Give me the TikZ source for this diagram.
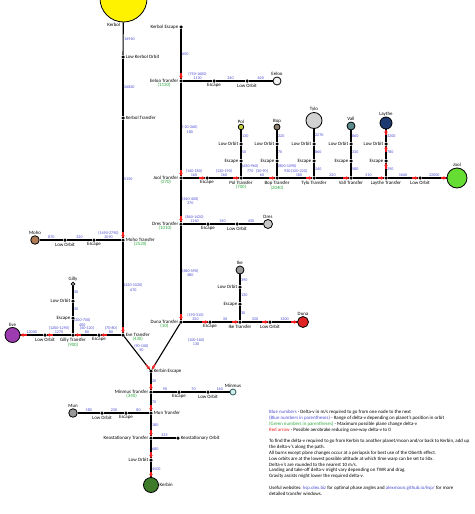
\documentclass[tikz,border=0pt]{standalone}
\usepackage{fontspec}
\setmainfont{Carlito}
\usepackage{tikz}
\usetikzlibrary{positioning,calc,arrows.meta}

\definecolor{numblue}{HTML}{4B4BD2}
\definecolor{numgreen}{HTML}{2FA83F}
\definecolor{aerored}{HTML}{F01E1E}

\begin{document}
\begin{tikzpicture}[x=1pt, y=-1pt,
		dot/.style={circle, fill=black, inner sep=0pt, minimum size=3.5pt},
		body/.style={circle, draw=black, thick, inner sep=0pt},
		lbl/.style={font=\fontsize{4.9}{5.2}\selectfont, inner sep=0.6pt},
		every label/.style={lbl},
		planechg/.style={lbl, text=numgreen},
		num/.style={font=\fontsize{4.1}{4.7}\selectfont, text=numblue, inner sep=0.6pt, align=center},
		link/.style={line width=1.1pt},
		aero/.style={draw=aerored, line width=1.3pt, -{Stealth[length=3.2pt, width=3.6pt]}},
	]
	\useasboundingbox (0,0) rectangle (474,514);

	%Nodes - Kerbol line
	\node[body, fill=yellow, minimum size=47pt]	(kerbol)	at (123.5,-1.5)	{};
	\node[lbl, anchor=east]						(kerbolname) at (121,25)	{Kerbol};
	\node[dot, label=right:Low Kerbol Orbit]	(lko)	at (123,57)		{};
	\node[dot, label=right:Kerbol Transfer]		(kt)	at (123,118)	{};
	\node[dot, label={[name=mtl]right:Moho Transfer}]	(mt)	at (123,240)	{};
	\node[dot, label={[name=etl]right:Eve Transfer}]	(et)	at (123,335)	{};
	\node[planechg, below=-1pt of mtl]	{(2520)};
	\node[planechg, below=-1pt of etl]	{(430)};

	%Nodes - outer planets line
	\node[dot, label=left:Kerbol Escape]	(ke)	at (181,27)		{};
	\node[dot, label={[name=eetl]left:Eeloo Transfer}]	(eet)	at (181,81)		{};
	\node[dot, label={[name=jtl]left:Jool Transfer}]	(jt)	at (181,178)	{};
	\node[dot, label={[name=dtl]left:Dres Transfer}]	(dt)	at (181,224)	{};
	\node[dot, label={[name=dutl]left:Duna Transfer}]	(dut)	at (181,322)	{};
	\node[planechg, below=-1pt of eetl]	{(1130)};
	\node[planechg, below=-1pt of jtl]	{(270)};
	\node[planechg, below=-1pt of dtl]	{(1010)};
	\node[planechg, below=-1pt of dutl]	{(10)};

	%Nodes - Eeloo
	\node[dot, label=below:Escape]		(eeesc)	at (214,81)	{};
	\node[dot, label=below:Low Orbit]	(eelo)	at (247,81)	{};
	\node[body, fill=gray!10, minimum size=8pt, label=above:Eeloo]	(eeloo)	at (277,81)	{};

	%Nodes - Jool
	\node[dot, label=below:Escape]		(jesc)	at (207,178)	{};
	\node[dot, label={[name=poltl]below:Pol Transfer}]	(polt)	at (241,178)	{};
	\node[dot, label={[name=boptl]below:Bop Transfer}]	(bopt)	at (277,178)	{};
	\node[dot, label=below:Tylo Transfer]	(tylt)	at (314,178)	{};
	\node[dot, label=below:Vall Transfer]	(valt)	at (351,178)	{};
	\node[dot, label=below:Laythe Transfer]	(layt)	at (386,178)	{};
	\node[dot, label=below:Low Orbit]	(jlo)	at (420,178)	{};
	\node[body, fill={rgb,255:red,102;green,221;blue,51}, minimum size=20pt, label=above:Jool]	(jool)	at (457,178)	{};
	\node[planechg, below=-1pt of poltl]	{(700)};
	\node[planechg, below=-1pt of boptl]	{(2040)};

	\node[dot, label=left:Escape]		(polesc)	at (241,161)	{};
	\node[dot, label=left:Low Orbit]	(pollo)		at (241,144)	{};
	\node[body, fill={rgb,255:red,200;green,208;blue,64}, minimum size=5.5pt, label=above:Pol]	(pol)	at (241,127)	{};

	\node[dot, label=left:Escape]		(bopesc)	at (277,161)	{};
	\node[dot, label=left:Low Orbit]	(boplo)		at (277,144)	{};
	\node[body, fill={rgb,255:red,140;green,124;blue,108}, minimum size=6pt, label=above:Bop]	(bop)	at (277,127)	{};

	\node[dot, label=left:Escape]		(tylesc)	at (314,161)	{};
	\node[dot, label=left:Low Orbit]	(tyllo)		at (314,144)	{};
	\node[body, fill=gray!35, minimum size=16pt, label=above:Tylo]	(tylo)	at (314,120.5)	{};

	\node[dot, label=left:Escape]		(valesc)	at (351,161)	{};
	\node[dot, label=left:Low Orbit]	(vallo)		at (351,144)	{};
	\node[body, fill={rgb,255:red,90;green,140;blue,140}, minimum size=8pt, label=above:Vall]	(vall)	at (351,126)	{};

	\node[dot, label=left:Escape]		(layesc)	at (386,161)	{};
	\node[dot, label=left:Low Orbit]	(laylo)		at (386,144)	{};
	\node[body, fill={rgb,255:red,28;green,58;blue,112}, minimum size=12pt, label=above:Laythe]	(laythe)	at (386,123)	{};

	%Nodes - Dres
	\node[dot, label=below:Escape]		(desc)	at (208,224)	{};
	\node[dot, label=below:Low Orbit]	(dlo)	at (237,224)	{};
	\node[body, fill=gray!45, minimum size=9pt, label=above:Dres]	(dres)	at (268,224)	{};

	%Nodes - Duna
	\node[dot, label=below:Escape]		(duesc)	at (210,322)	{};
	\node[dot, label=below:Ike Transfer]	(iket)	at (240,322)	{};
	\node[dot, label=below:Low Orbit]	(dulo)	at (270,322)	{};
	\node[body, fill={rgb,255:red,224;green,36;blue,36}, minimum size=11pt, label=above:Duna]	(duna)	at (303,322)	{};

	\node[dot, label=left:Escape]		(ikesc)	at (240,304)	{};
	\node[dot, label=left:Low Orbit]	(ikelo)	at (240,287)	{};
	\node[body, fill=gray!80, minimum size=8pt, label=above:Ike]	(ike)	at (240,270)	{};

	%Nodes - Moho
	\node[dot, label=below:Escape]		(mhesc)	at (94,240)	{};
	\node[dot, label=below:Low Orbit]	(mhlo)	at (65,240)	{};
	\node[body, fill={rgb,255:red,176;green,122;blue,85}, minimum size=8.5pt, label=above:Moho]	(moho)	at (35,240)	{};

	%Nodes - Eve
	\node[dot, label=below:Escape]		(evesc)	at (99,335)	{};
	\node[dot, label={[name=gtl]below:Gilly Transfer}]	(gt)	at (73,335)	{};
	\node[dot, label=below:Low Orbit]	(evlo)	at (45,335)	{};
	\node[body, fill={rgb,255:red,156;green,60;blue,176}, minimum size=15pt, label=above:Eve]	(eve)	at (12.5,335)	{};
	\node[planechg, below=-1pt of gtl]	{(900)};

	\node[dot, label=left:Escape]		(gesc)	at (73,318)	{};
	\node[dot, label=left:Low Orbit]	(glo)	at (73,301)	{};
	\node[body, fill=white, minimum size=3.5pt, label=above:Gilly]	(gilly)	at (73,284)	{};

	%Nodes - Kerbin
	\node[dot, label=right:Kerbin Escape]	(kesc)	at (151,371)	{};
	\node[dot, label={[name=mintl]left:Minmus Transfer}]	(mint)	at (151,392)	{};
	\node[dot, label=right:Mun Transfer]	(munt)	at (151,413)	{};
	\node[dot, label=left:Keostationary Transfer]	(keot)	at (151,438)	{};
	\node[dot, label=left:Low Orbit]		(klo)	at (151,460)	{};
	\node[body, fill={rgb,255:red,61;green,122;blue,42}, minimum size=15pt, label=right:Kerbin]	(kerbin)	at (151,485)	{};
	\node[planechg, below=-1pt of mintl]	{(340)};

	\node[dot, label=below:Escape]		(mesc)	at (179,392)	{};
	\node[dot, label=below:Low Orbit]	(mlo)	at (208,392)	{};
	\node[body, draw={rgb,255:red,40;green,90;blue,90}, fill={rgb,255:red,210;green,238;blue,238}, minimum size=6pt, label=above:Minmus]	(minmus)	at (233,392)	{};

	\node[dot, label=below:Escape]		(munesc)	at (126,413)	{};
	\node[dot, label=below:Low Orbit]	(munlo)		at (102,413)	{};
	\node[body, fill=gray!80, minimum size=8.5pt, label=above:Mun]	(mun)	at (73,413)	{};

	\node[dot, label=right:Keostationary Orbit]	(keo)	at (178,438)	{};

	%Lines - Kerbol line
	\draw[link]	(kerbol) -- node[num, right]{16940} (lko);
	\draw[link]	(lko) -- node[num, right]{26820} (kt);
	\draw[link]	(kt) -- node[num, right]{5150} (mt);
	\draw[link]	(mt) -- node[num, right]{(420-1020)\\670} (et);
	\draw[link]	(et) -- node[num, right, pos=0.35]{(90-100)\\90} (kesc);

	\draw[link]	(mt) -- node[num, above]{(1490-2790)\\2090} (mhesc);
	\draw[link]	(mhesc) -- node[num, above]{320} (mhlo);
	\draw[link]	(mhlo) -- node[num, above]{870} (moho);

	\draw[link]	(et) -- node[num, above]{(70-80)\\80} (evesc);
	\draw[link]	(evesc) -- node[num, above, xshift=1pt]{(40-120)\\80} (gt);
	\draw[link]	(gt) -- node[num, above]{(1200-1290)\\1270} (evlo);
	\draw[link]	(evlo) -- node[num, above]{12000} (eve);
	\draw[link]	(gt) -- node[num, right, pos=0.8]{(200-700)\\400} (gesc);
	\draw[link]	(gesc) -- node[num, right]{30} (glo);
	\draw[link]	(glo) -- node[num, right]{30} (gilly);

	%Lines - outer planets line
	\draw[link]	(ke) -- node[num, right]{650} (eet);
	\draw[link]	(eet) -- node[num, right]{(-20-260)\\180} (jt);
	\draw[link]	(jt) -- node[num, right]{(340-400)\\370} (dt);
	\draw[link]	(dt) -- node[num, right]{(380-590)\\480} (dut);
	\draw[link]	(dut) -- node[num, right, pos=0.4, xshift=18pt]{(100-160)\\130} (kesc);

	\draw[link]	(eet) -- node[num, above]{(750-1600)\\1130} (eeesc);
	\draw[link]	(eeesc) -- node[num, above]{240} (eelo);
	\draw[link]	(eelo) -- node[num, above]{620} (eeloo);

	\draw[link]	(jt) -- node[num, above]{(140-180)\\160} (jesc);
	\draw[link]	(jesc) -- node[num, above]{(130-190)\\160} (polt);
	\draw[link]	(polt) -- node[num, above, xshift=3pt]{(30-90)\\60} (bopt);
	\draw[link]	(bopt) -- node[num, above, xshift=3.5pt]{(120-220)\\180} (tylt);
	\draw[link]	(tylt) -- node[num, above]{220} (valt);
	\draw[link]	(valt) -- node[num, above]{510} (layt);
	\draw[link]	(layt) -- node[num, above]{1660} (jlo);
	\draw[link]	(jlo) -- node[num, above]{22000} (jool);

	\draw[link]	(polt) -- node[num, right, pos=0.6]{(630-960)\\770} (polesc);
	\draw[link]	(polesc) -- node[num, right]{50} (pollo);
	\draw[link]	(pollo) -- node[num, right]{130} (pol);
	\draw[link]	(bopt) -- node[num, right, pos=0.6]{(800-1090)\\930} (bopesc);
	\draw[link]	(bopesc) -- node[num, right]{70} (boplo);
	\draw[link]	(boplo) -- node[num, right]{220} (bop);
	\draw[link]	(tylt) -- node[num, right]{240} (tylesc);
	\draw[link]	(tylesc) -- node[num, right]{860} (tyllo);
	\draw[link]	(tyllo) -- node[num, right]{2270} (tylo);
	\draw[link]	(valt) -- node[num, right]{580} (valesc);
	\draw[link]	(valesc) -- node[num, right]{330} (vallo);
	\draw[link]	(vallo) -- node[num, right]{860} (vall);
	\draw[link]	(layt) -- node[num, right]{290} (layesc);
	\draw[link]	(layesc) -- node[num, right]{780} (laylo);
	\draw[link]	(laylo) -- node[num, right]{3200} (laythe);

	\draw[link]	(dt) -- node[num, above]{(860-1420)\\1140} (desc);
	\draw[link]	(desc) -- node[num, above]{150} (dlo);
	\draw[link]	(dlo) -- node[num, above]{430} (dres);

	\draw[link]	(dut) -- node[num, above]{(190-310)\\250} (duesc);
	\draw[link]	(duesc) -- node[num, above]{30} (iket);
	\draw[link]	(iket) -- node[num, above]{330} (dulo);
	\draw[link]	(dulo) -- node[num, above]{1300} (duna);
	\draw[link]	(iket) -- node[num, right]{30} (ikesc);
	\draw[link]	(ikesc) -- node[num, right]{130} (ikelo);
	\draw[link]	(ikelo) -- node[num, right]{390} (ike);

	%Lines - Kerbin
	\draw[link]	(kesc) -- node[num, right]{20} (mint);
	\draw[link]	(mint) -- node[num, right]{70} (munt);
	\draw[link]	(munt) -- node[num, right]{180} (keot);
	\draw[link]	(keot) -- node[num, right]{680} (klo);
	\draw[link]	(klo) -- node[num, right]{4500} (kerbin);

	\draw[link]	(mint) -- node[num, above]{90} (mesc);
	\draw[link]	(mesc) -- node[num, above]{70} (mlo);
	\draw[link]	(mlo) -- node[num, above]{160} (minmus);
	\draw[link]	(munt) -- node[num, above]{80} (munesc);
	\draw[link]	(munesc) -- node[num, above]{230} (munlo);
	\draw[link]	(munlo) -- node[num, above]{580} (mun);
	\draw[link]	(keot) -- node[num, above]{435} (keo);

	%Aerobrake arrows
	\draw[aero]	($(mt)!8pt!(kt)$) -- (mt);
	\draw[aero]	($(et)!8pt!(mt)$) -- (et);
	\draw[aero]	($(kesc)!8pt!(et)$) -- (kesc);
	\draw[aero]	($(kesc)!8pt!(dut)$) -- (kesc);
	\draw[aero]	($(eet)!8pt!(ke)$) -- (eet);
	\draw[aero]	($(jt)!8pt!(eet)$) -- (jt);
	\draw[aero]	($(dt)!8pt!(jt)$) -- (dt);
	\draw[aero]	($(dut)!8pt!(dt)$) -- (dut);

	\draw[aero]	($(jesc)!8pt!(jt)$) -- (jesc);
	\draw[aero]	($(polt)!8pt!(jesc)$) -- (polt);
	\draw[aero]	($(bopt)!8pt!(polt)$) -- (bopt);
	\draw[aero]	($(tylt)!8pt!(bopt)$) -- (tylt);
	\draw[aero]	($(valt)!8pt!(tylt)$) -- (valt);
	\draw[aero]	($(layt)!8pt!(valt)$) -- (layt);
	\draw[aero]	($(jlo)!8pt!(layt)$) -- (jlo);
	\draw[aero]	($(jool)!16pt!(jlo)$) -- (jool);
	\draw[aero]	($(layesc)!8pt!(layt)$) -- (layesc);
	\draw[aero]	($(laylo)!8pt!(layesc)$) -- (laylo);
	\draw[aero]	($(laythe)!12pt!(laylo)$) -- (laythe);

	\draw[aero]	($(duesc)!8pt!(dut)$) -- (duesc);
	\draw[aero]	($(iket)!8pt!(duesc)$) -- (iket);
	\draw[aero]	($(dulo)!8pt!(iket)$) -- (dulo);
	\draw[aero]	($(duna)!12pt!(dulo)$) -- (duna);

	\draw[aero]	($(evesc)!8pt!(et)$) -- (evesc);
	\draw[aero]	($(gt)!8pt!(evesc)$) -- (gt);
	\draw[aero]	($(evlo)!8pt!(gt)$) -- (evlo);
	\draw[aero]	($(eve)!14pt!(evlo)$) -- (eve);

	\draw[aero]	($(mint)!8pt!(kesc)$) -- (mint);
	\draw[aero]	($(munt)!8pt!(mint)$) -- (munt);
	\draw[aero]	($(keot)!8pt!(munt)$) -- (keot);
	\draw[aero]	($(klo)!8pt!(keot)$) -- (klo);
	\draw[aero]	($(kerbin)!13pt!(klo)$) -- (kerbin);

	%Legend
	\node[anchor=north west, align=left, inner sep=0pt, font=\fontsize{4.9}{5.8}\selectfont] (legend) at (269,410.3) {%
		\textcolor{numblue}{Blue numbers} - Delta-v in m/s required to go from one node to the next\\
		\textcolor{numblue}{(Blue numbers in parentheses)} - Range of delta-v depending on planet's position in orbit\\
		\textcolor{numgreen}{(Green numbers in parentheses)} - Maximum possible plane change delta-v\\
		\textcolor{aerored}{Red arrow} - Possible aerobrake reducing one-way delta-v to 0\\[5.8pt]
		To find the delta-v required to go from Kerbin to another planet/moon and/or back to Kerbin, add up\\
		the delta-v's along the path.\\
		All burns except plane changes occur at a periapsis for best use of the Oberth effect.\\
		Low orbits are at the lowest possible altitude at which time warp can be set to 50x.\\
		Delta-v's are rounded to the nearest 10 m/s.\\
		Landing and take-off delta-v might vary depending on TWR and drag.\\
		Gravity assists might lower the required delta-v.\\[5.8pt]
		Useful websites: \textcolor{numblue}{ksp.olex.biz} for optimal phase angles and \textcolor{numblue}{alexmoon.github.io/ksp/} for more\\
		detailed transfer windows.};

\end{tikzpicture}
\end{document}
